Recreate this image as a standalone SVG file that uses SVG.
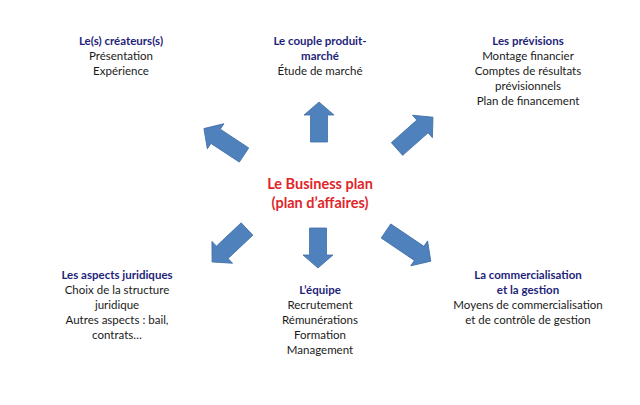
<svg xmlns="http://www.w3.org/2000/svg" xmlns:xlink="http://www.w3.org/1999/xlink" width="640" height="405" viewBox="0 0 640 405">
<style>
text{font-family:Lato,"Open Sans","DejaVu Sans",sans-serif;text-anchor:middle;font-size:11.5px;fill:#1a1a1a}
.h{font-weight:bold;fill:#1f1f7a}
.c{font-weight:bold;fill:#e0252a;font-size:14.5px}
.arr{fill:#4f81bd;stroke:#3f6fa6;stroke-width:0.8}
</style>
<defs>
<path id="a40" d="M0,-8.5 L27,-8.5 L27,-15 L40,0 L27,15 L27,8.5 L0,8.5 Z"/>
<path id="a48" d="M0,-8.5 L34,-8.5 L34,-15 L48,0 L34,15 L34,8.5 L0,8.5 Z"/>
<path id="a54" d="M0,-8.5 L40,-8.5 L40,-15 L54,0 L40,15 L40,8.5 L0,8.5 Z"/>
</defs>
<rect width="640" height="405" fill="#ffffff"/>
<g id="connectors">
<use xlink:href="#a40" class="arr" transform="translate(319,142) rotate(-90)"/>
<use xlink:href="#a40" class="arr" transform="translate(318,228) rotate(90)"/>
<use xlink:href="#a48" class="arr" transform="translate(244,155) rotate(-146.6)"/>
<use xlink:href="#a48" class="arr" transform="translate(397,149) rotate(-41.5)"/>
<use xlink:href="#a48" class="arr" transform="translate(247,229) rotate(136.7)"/>
<use xlink:href="#a54" class="arr" transform="translate(386,231) rotate(34)"/>
</g>
<g id="center">
<text class="c" x="320" y="189">Le Business plan</text>
<text class="c" x="320" y="208">(plan d’affaires)</text>
</g>
<g id="createurs">
<text class="h" x="121" y="45">Le(s) créateurs(s)</text>
<text x="121" y="60">Présentation</text>
<text x="121" y="75">Expérience</text>
</g>
<g id="couple">
<text class="h" x="320" y="45">Le couple produit-</text>
<text class="h" x="320" y="60">marché</text>
<text x="320" y="75">Étude de marché</text>
</g>
<g id="previsions">
<text class="h" x="528" y="45">Les prévisions</text>
<text x="528" y="60">Montage financier</text>
<text x="528" y="75">Comptes de résultats</text>
<text x="528" y="90">prévisionnels</text>
<text x="528" y="105">Plan de financement</text>
</g>
<g id="juridiques">
<text class="h" x="117" y="279">Les aspects juridiques</text>
<text x="117" y="294">Choix de la structure</text>
<text x="117" y="309">juridique</text>
<text x="117" y="324">Autres aspects : bail,</text>
<text x="117" y="339">contrats…</text>
</g>
<g id="equipe">
<text class="h" x="320" y="294">L’équipe</text>
<text x="320" y="309">Recrutement</text>
<text x="320" y="324">Rémunérations</text>
<text x="320" y="339">Formation</text>
<text x="320" y="354">Management</text>
</g>
<g id="commercialisation">
<text class="h" x="528" y="279">La commercialisation</text>
<text class="h" x="528" y="294">et la gestion</text>
<text x="528" y="309">Moyens de commercialisation</text>
<text x="528" y="324">et de contrôle de gestion</text>
</g>
</svg>
